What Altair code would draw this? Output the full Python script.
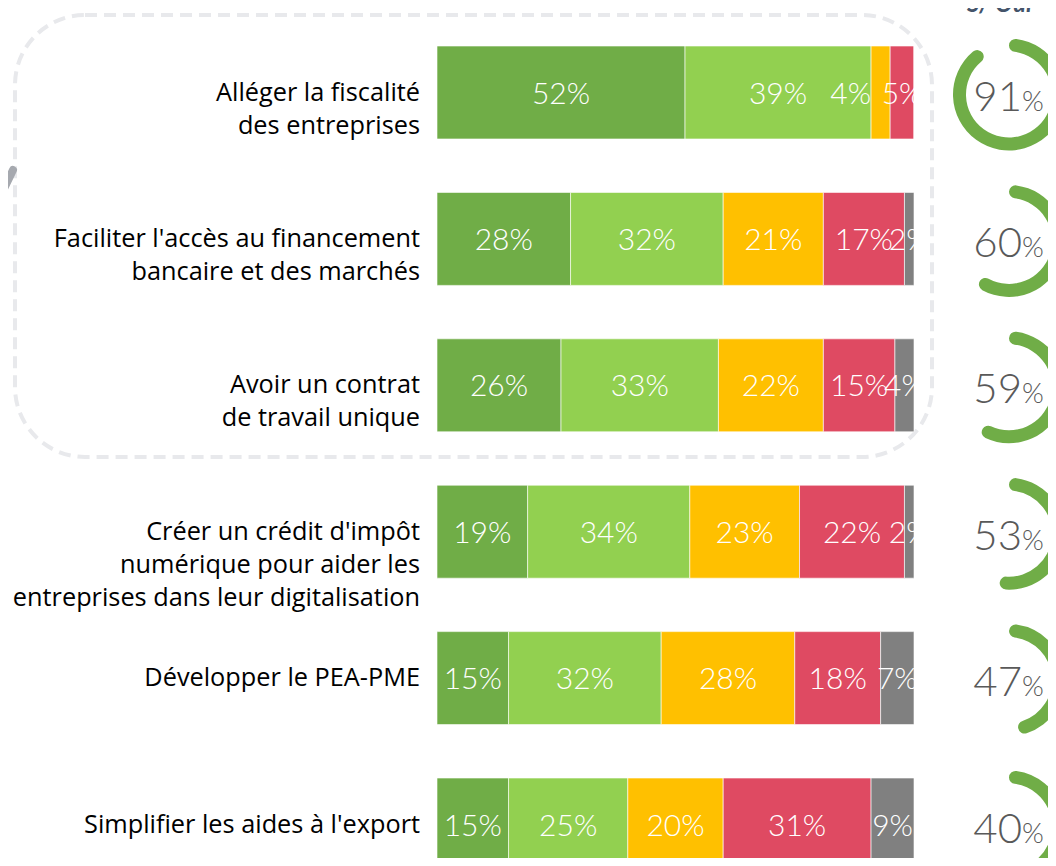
import altair as alt
import pandas as pd

# ---------------- data ----------------
categories = [
    "Alléger la fiscalité\ndes entreprises",
    "Faciliter l'accès au financement\nbancaire et des marchés",
    "Avoir un contrat\nde travail unique",
    "Créer un crédit d'impôt\nnumérique pour aider les\nentreprises dans leur digitalisation",
    "Développer le PEA-PME",
    "Simplifier les aides à l'export",
]
segments = ["Oui, tout à fait", "Oui, plutôt", "Non, plutôt pas", "Non, pas du tout", "NSP"]
seg_colors = ["#70AD47", "#92D050", "#FFC000", "#DF4A62", "#808080"]

tout_a_fait = [52, 28, 26, 19, 15, 15]
plutot = [39, 32, 33, 34, 32, 25]
plutot_pas = [4, 21, 22, 23, 28, 20]
pas_du_tout = [5, 17, 15, 22, 18, 31]
nsp = [0, 2, 4, 2, 7, 9]
total_oui = [91, 60, 59, 53, 47, 40]
title_text = "S/ Oui"

series = [tout_a_fait, plutot, plutot_pas, pas_du_tout, nsp]
rows = []
for i, cat in enumerate(categories):
    for k, seg in enumerate(segments):
        rows.append({"cat": cat, "seg": seg, "idx": k, "v": series[k][i]})
df = pd.DataFrame(rows)
df_oui = pd.DataFrame({"cat": categories, "oui": total_oui})
df_cat = pd.DataFrame({"cat": categories})

# ---------------- scales ----------------
FONT = "Lato"
xscale = alt.Scale(domain=[0, 100], range=[429, 906])
yscale = alt.Scale(domain=categories, range=[11.3, 889.7], paddingInner=0.365, paddingOuter=0.1825)
y_enc = alt.Y("cat:N", scale=yscale, axis=None)

one = alt.Chart(pd.DataFrame({"d": [0]}))

frame = one.mark_rect(
    fillOpacity=0, stroke="#E8E9EC", strokeWidth=4, strokeDash=[12, 7], cornerRadius=70
).encode(x=alt.value(7), x2=alt.value(924), y=alt.value(7), y2=alt.value(449))

handle = one.mark_rule(strokeWidth=8, strokeCap="round", color="#A6A9AF").encode(
    x=alt.value(5), y=alt.value(162), x2=alt.value(-8), y2=alt.value(189)
)

bars = alt.Chart(df).mark_bar(stroke="white", strokeWidth=1, strokeOpacity=0.6).encode(
    x=alt.X("v:Q", stack="zero", scale=xscale, axis=None),
    y=y_enc,
    color=alt.Color("seg:N", scale=alt.Scale(domain=segments, range=seg_colors), legend=None),
    order=alt.Order("idx:Q"),
)

stacked = (
    alt.Chart(df)
    .transform_stack(stack="v", groupby=["cat"], as_=["v0", "v1"], sort=[alt.SortField("idx", order="ascending")])
    .transform_filter("datum.v > 0")
    .transform_calculate(mid="(datum.v0 + datum.v1) / 2", lab="datum.v + '%'")
)
small_mid = "datum.v < 5 && datum.idx == 2"

bar_labels = (
    stacked.transform_filter("!(" + small_mid + ")")
    .mark_text(font=FONT, fontSize=30, fontWeight=300, color="white", baseline="middle", align="center", dy=2)
    .encode(x=alt.X("mid:Q", scale=xscale, axis=None), y=y_enc, text="lab:N")
)
bar_labels_small = (
    stacked.transform_filter(small_mid)
    .mark_text(font=FONT, fontSize=30, fontWeight=300, color="white", baseline="middle", align="right", dy=2)
    .encode(x=alt.X("v0:Q", scale=xscale, axis=None), y=y_enc, text="lab:N")
)

cat_labels = alt.Chart(df_cat).mark_text(
    font="Open Sans", fontSize=25.3, color="#000000", align="right", baseline="middle",
    lineBreak="\n", lineHeight=33
).encode(x=alt.value(412), y=y_enc, text="cat:N")

rings = alt.Chart(df_oui).mark_arc(
    radius=56, radius2=43, cornerRadius=6.5, color="#70AD47", yOffset=2
).encode(
    x=alt.value(1001),
    y=y_enc,
    theta=alt.Theta("oui:Q", scale=alt.Scale(domain=[0, 100], range=[0, 6.283185307]), stack=False),
    theta2=alt.value(0),
)

ring_num = alt.Chart(df_oui).mark_text(
    font=FONT, fontSize=42, fontWeight=300, color="#595959", align="right", baseline="alphabetic", dy=18
).encode(x=alt.value(1014), y=y_enc, text=alt.Text("oui:Q"))

ring_pct = alt.Chart(df_oui).transform_calculate(p="'%'").mark_text(
    font=FONT, fontSize=28, fontWeight=300, color="#595959", align="left", baseline="alphabetic", dy=18
).encode(x=alt.value(1014), y=y_enc, text="p:N")

title = one.mark_text(
    text=title_text, font=FONT, fontSize=24, fontStyle="italic", fontWeight="bold",
    color="#44546A", align="left", baseline="alphabetic"
).encode(x=alt.value(959), y=alt.value(4))

chart = (
    alt.layer(frame, bars, bar_labels, bar_labels_small, cat_labels, rings, ring_num, ring_pct, title, handle)
    .properties(width=1040, height=850, autosize=alt.AutoSizeParams(type="none"), padding=0)
    .configure_view(strokeWidth=0)
)

chart.save("out.html", embed_options={"renderer": "svg", "actions": False})
